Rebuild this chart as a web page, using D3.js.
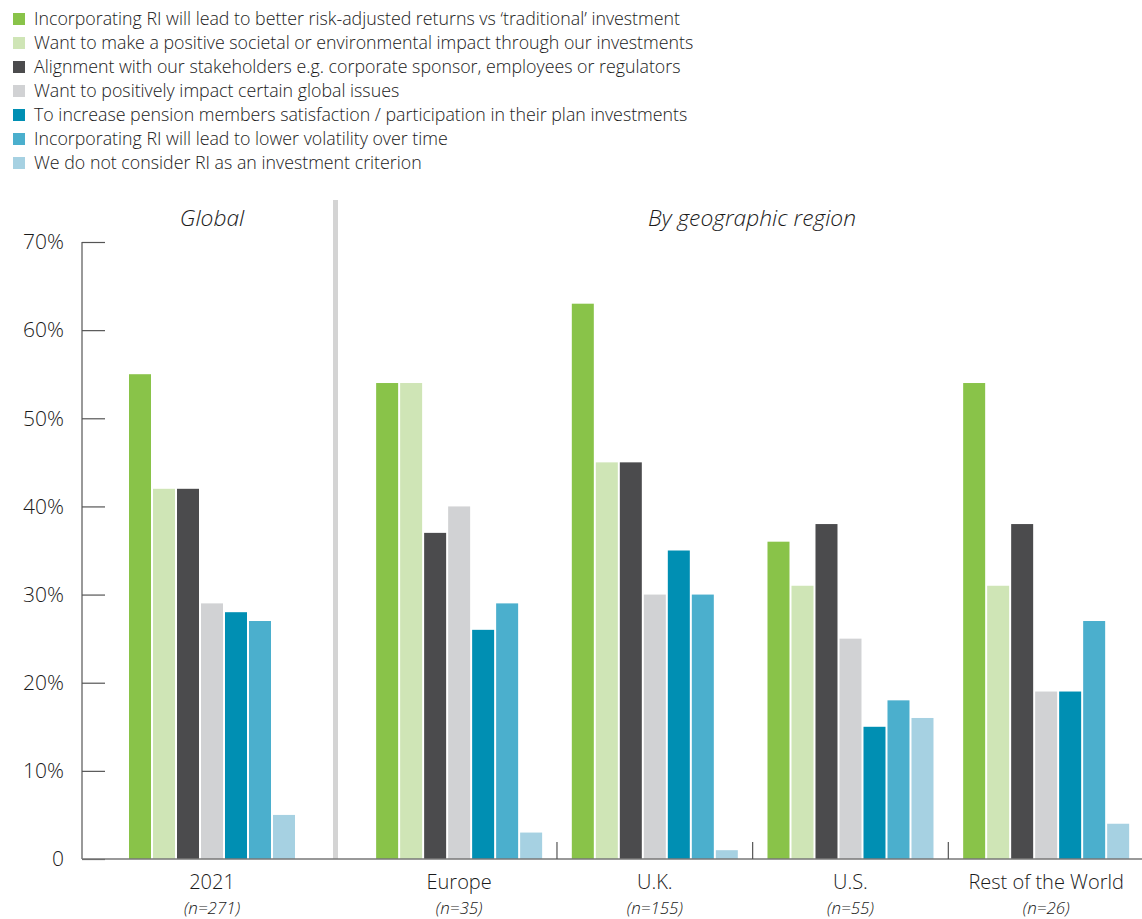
<!DOCTYPE html>
<html>
<head>
<meta charset="utf-8">
<script src="https://cdn.jsdelivr.net/npm/d3@7"></script>
<style>
  html, body { margin: 0; padding: 0; background: #fff; }
  svg { display: block; font-family: "Open Sans", "Noto Sans", sans-serif; }
</style>
</head>
<body>
<svg id="chart" width="1142" height="919"></svg>
<script>
// Reasons for incorporating responsible investment (RI), share of respondents
const seriesNames = [
  "Incorporating RI will lead to better risk-adjusted returns vs \u2018traditional\u2019 investment",
  "Want to make a positive societal or environmental impact through our investments",
  "Alignment with our stakeholders e.g. corporate sponsor, employees or regulators",
  "Want to positively impact certain global issues",
  "To increase pension members satisfaction / participation in their plan investments",
  "Incorporating RI will lead to lower volatility over time",
  "We do not consider RI as an investment criterion"
];
const seriesColors = ["#89c349", "#cfe5b6", "#4b4b4d", "#d1d2d4", "#008fb3", "#4bafcd", "#a6d1e2"];

const globalCategory = ["2021"];
const globalCounts = ["(n=271)"];
const globalValues = [[55, 42, 42, 29, 28, 27, 5]];

const regionCategories = ["Europe", "U.K.", "U.S.", "Rest of the World"];
const regionCounts = ["(n=35)", "(n=155)", "(n=55)", "(n=26)"];
const regionValues = [
  [54, 54, 37, 40, 26, 29, 3],
  [63, 45, 45, 30, 35, 30, 1],
  [36, 31, 38, 25, 15, 18, 16],
  [54, 31, 38, 19, 19, 27, 4]
];

const yTicks = [0, 10, 20, 30, 40, 50, 60, 70];
const sectionTitles = ["Global", "By geographic region"];

const svg = d3.select("#chart");
const ink = "#1a1a1a";

// Legend
const legend = svg.append("g").attr("transform", "translate(13,0)");
seriesNames.forEach((name, i) => {
  const row = legend.append("g").attr("transform", `translate(0,${19 + i * 24})`);
  row.append("rect").attr("x", 0).attr("y", -6).attr("width", 12).attr("height", 12)
    .attr("fill", seriesColors[i]);
  row.append("text").attr("x", 21).attr("y", 0).attr("dy", "0.35em")
    .attr("font-size", 17.8).attr("font-weight", 300).attr("fill", ink).text(name);
});

// Scales
const baseY = 859, topY = 242;
const y = d3.scaleLinear().domain([0, 70]).range([baseY, topY]);
const xRegion = d3.scaleBand().domain(regionCategories).range([361.3, 1144]);
const xGlobal = d3.scaleBand().domain(globalCategory).range([114, 310]);
const groupWidth = 166;
const xSeries = d3.scaleBand().domain(d3.range(seriesNames.length))
  .range([0, groupWidth]).paddingInner(1 / 12).paddingOuter(0);

// Section divider
svg.append("rect").attr("x", 333).attr("y", 200).attr("width", 5).attr("height", baseY - 200)
  .attr("fill", "#d4d4d4");

// Y axis
const yAxis = svg.append("g").attr("transform", "translate(82,0)")
  .call(d3.axisRight(y).tickValues(yTicks).tickSize(23).tickFormat(() => ""));
yAxis.select(".domain").remove();
yAxis.selectAll(".tick line").attr("stroke", "#555").attr("stroke-width", 1.2);
svg.append("line").attr("x1", 82).attr("x2", 82).attr("y1", topY).attr("y2", baseY)
  .attr("stroke", "#555").attr("stroke-width", 1.2);
svg.append("g").selectAll("text").data(yTicks).join("text")
  .attr("x", 64).attr("y", d => y(d)).attr("dy", "0.35em").attr("text-anchor", "end")
  .attr("font-size", 21).attr("font-weight", 300).attr("fill", ink)
  .text(d => d === 0 ? "0" : d + "%");

// Bars
function drawGroup(cat, vals, xScale) {
  const x0 = xScale(cat) + (xScale.bandwidth() - groupWidth) / 2;
  svg.append("g").attr("transform", `translate(${x0},0)`)
    .selectAll("rect").data(vals).join("rect")
    .attr("x", (d, i) => xSeries(i)).attr("width", xSeries.bandwidth())
    .attr("y", d => y(d)).attr("height", d => y(0) - y(d))
    .attr("fill", (d, i) => seriesColors[i]);
}
globalCategory.forEach((c, i) => drawGroup(c, globalValues[i], xGlobal));
regionCategories.forEach((c, i) => drawGroup(c, regionValues[i], xRegion));

// Baseline
svg.append("line").attr("x1", 82).attr("x2", 1142).attr("y1", baseY).attr("y2", baseY)
  .attr("stroke", "#777").attr("stroke-width", 1.5);

// Dividers between regions
svg.append("g").selectAll("line").data(regionCategories.slice(1)).join("line")
  .attr("x1", d => xRegion(d)).attr("x2", d => xRegion(d))
  .attr("y1", baseY - 17).attr("y2", baseY)
  .attr("stroke", "#555").attr("stroke-width", 1.2);

// Category labels
function drawLabels(cats, counts, xScale) {
  cats.forEach((c, i) => {
    const cx = xScale(c) + xScale.bandwidth() / 2;
    svg.append("text").attr("x", cx).attr("y", 889).attr("text-anchor", "middle")
      .attr("font-size", 20).attr("font-weight", 300).attr("fill", ink).text(c);
    svg.append("text").attr("x", cx).attr("y", 914).attr("text-anchor", "middle")
      .attr("font-size", 17).attr("font-style", "italic").attr("font-weight", 300)
      .attr("fill", ink).text(counts[i]);
  });
}
drawLabels(globalCategory, globalCounts, xGlobal);
drawLabels(regionCategories, regionCounts, xRegion);

// Section titles
svg.append("text").attr("x", 212).attr("y", 226).attr("text-anchor", "middle")
  .attr("font-size", 22.8).attr("font-style", "italic").attr("font-weight", 300)
  .attr("fill", ink).text(sectionTitles[0]);
svg.append("text").attr("x", 752).attr("y", 226).attr("text-anchor", "middle")
  .attr("font-size", 22.8).attr("font-style", "italic").attr("font-weight", 300)
  .attr("fill", ink).text(sectionTitles[1]);
</script>
</body>
</html>
